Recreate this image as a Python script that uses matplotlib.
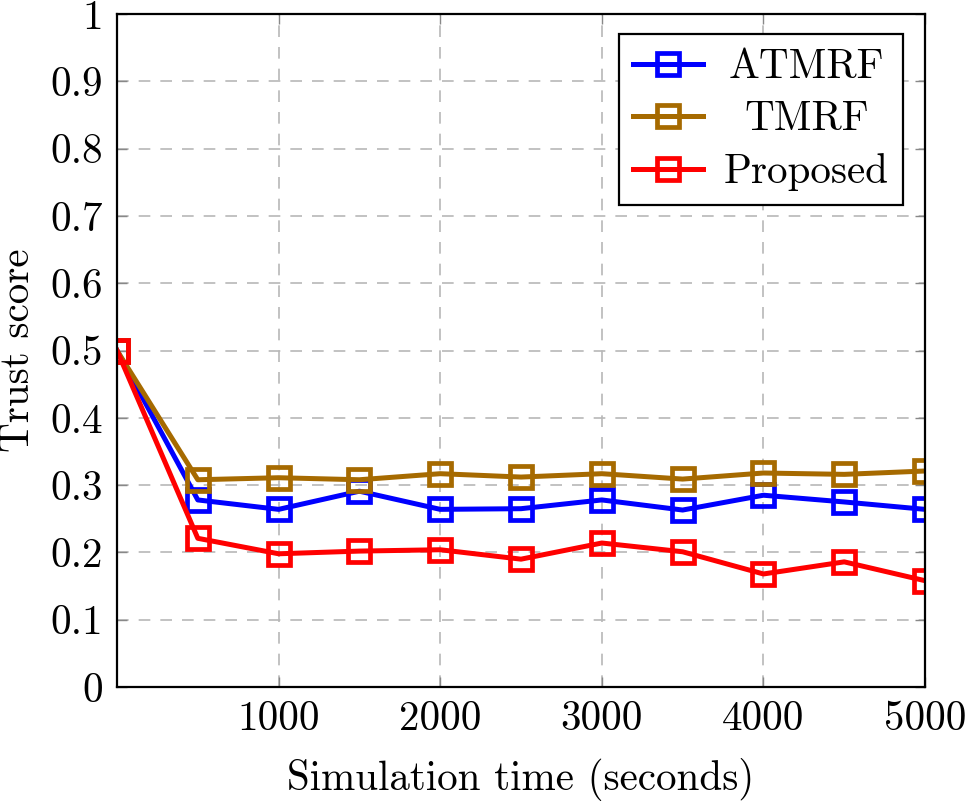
import matplotlib
matplotlib.use('Agg')
from matplotlib import pyplot as plt

# data
time = [0, 500, 1000, 1500, 2000, 2500, 3000, 3500, 4000, 4500, 5000]
atmrf = [0.5, 0.278, 0.264, 0.291, 0.264, 0.265, 0.278, 0.263, 0.285, 0.275, 0.264]
tmrf = [0.5, 0.308, 0.311, 0.308, 0.317, 0.312, 0.317, 0.309, 0.318, 0.316, 0.321]
proposed = [0.5, 0.221, 0.198, 0.202, 0.204, 0.190, 0.214, 0.201, 0.168, 0.186, 0.158]
xticks = [1000, 2000, 3000, 4000, 5000]
yticks = [0, 0.1, 0.2, 0.3, 0.4, 0.5, 0.6, 0.7, 0.8, 0.9, 1]

plt.rcParams['font.family'] = 'cmr10'
plt.rcParams['axes.formatter.use_mathtext'] = True
plt.rcParams['font.size'] = 29.6

fig = plt.figure(figsize=(9.67, 8.06), dpi=100)
ax = fig.add_axes([0.121, 0.1476, 0.8356, 0.835])

style = dict(lw=3.6, marker='s', ms=16, mfc='none', mew=3.4)
ax.plot(time, atmrf, color='#0000ff', label='ATMRF', **style)
ax.plot(time, tmrf, color='#a66a00', label='TMRF', **style)
ax.plot(time, proposed, color='#ff0000', label='Proposed', **style)

ax.set_xlim(0, 5000)
ax.set_ylim(0, 1)
ax.set_xticks(xticks)
ax.set_xticklabels([str(x) for x in xticks])
ax.set_yticks(yticks)
ax.set_yticklabels(['0'] + ['%.1f' % y for y in yticks[1:-1]] + ['1'])
ax.tick_params(direction='in', length=7, width=1, color='#888888', top=True, right=True, pad=10)
ax.grid(True, ls=(0, (7, 6)), color='#b8b8b8', lw=1.2)
ax.set_axisbelow(True)
for s in ax.spines.values():
    s.set_linewidth(1.6)

ax.set_xlabel('Simulation time (seconds)', labelpad=14)
ax.set_ylabel('Trust score', labelpad=10)

leg = ax.legend(loc='upper right', fancybox=False, edgecolor='black', framealpha=1,
                handlelength=1.7, borderpad=0.35, labelspacing=0.36, handletextpad=0.5,
                borderaxespad=0, bbox_to_anchor=(0.973, 0.970))
leg.get_frame().set_linewidth(1.6)

# center legend labels in their column like pgfplots
fig.canvas.draw()
r = fig.canvas.get_renderer()
widths = [t.get_window_extent(r).width for t in leg.get_texts()]
wmax = max(widths)
for t, w in zip(leg.get_texts(), widths):
    t.set_x((wmax - w) / 2)

plt.savefig('out.png', dpi=100)
